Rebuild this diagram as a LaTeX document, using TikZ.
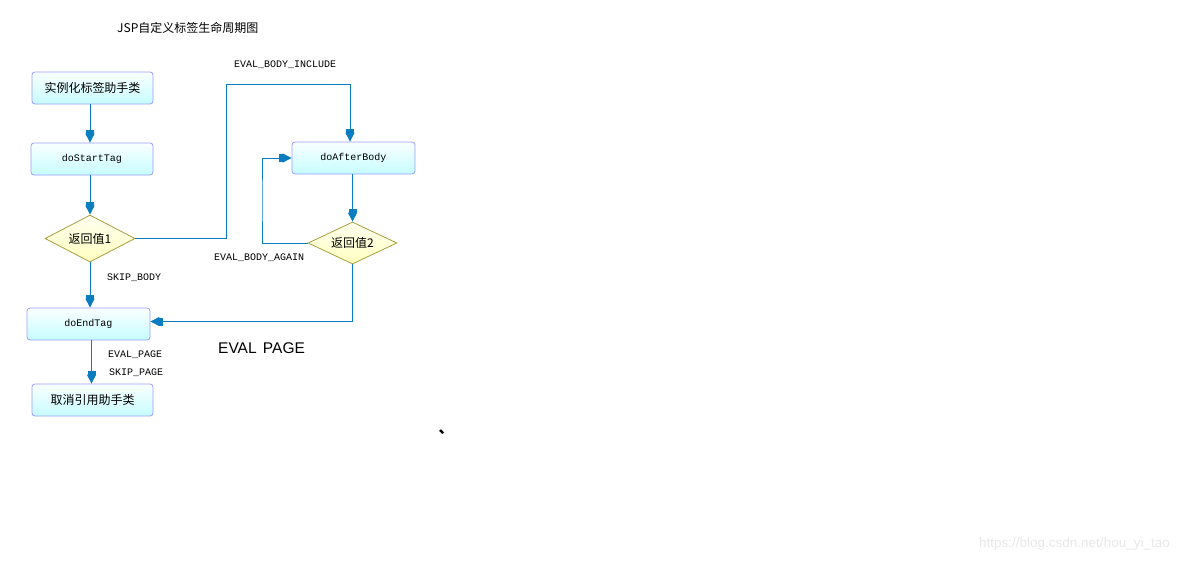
\documentclass[tikz,border=0pt]{standalone}
\usepackage{fontspec}
\usetikzlibrary{shapes.geometric,arrows.meta,calc}
\newfontfamily\cjk{Noto Sans CJK SC}
\newfontfamily\monof{Liberation Mono}
\newfontfamily\sansf{Liberation Sans}
\definecolor{boxline}{HTML}{9C9CFF}
\definecolor{boxtop}{HTML}{FAFFFF}
\definecolor{boxbot}{HTML}{C6FCFF}
\definecolor{dialine}{HTML}{A8A040}
\definecolor{diatop}{HTML}{FFFFF0}
\definecolor{diabot}{HTML}{FFFFC0}
\definecolor{arrowc}{HTML}{0A7CC0}
\definecolor{wm}{HTML}{E8E8E8}
\tikzset{
  stepbox/.style={rectangle, rounded corners=3pt, draw=boxline, line width=0.8pt,
    top color=boxtop, bottom color=boxbot, minimum height=32pt, inner sep=0pt},
  decide/.style={diamond, draw=dialine, line width=0.8pt, top color=diatop, bottom color=diabot,
    inner sep=0pt, font=\cjk\fontsize{12}{14}\selectfont},
  conn/.style={draw=arrowc, line width=1pt,
    -{Rectangle[length=4pt,width=8pt]Triangle[length=9pt,width=9pt]}},
  cjktext/.style={font=\cjk\fontsize{12}{14}\selectfont},
  monotext/.style={font=\monof\fontsize{10}{12}\selectfont},
  lbl/.style={monotext, anchor=west, inner sep=0pt},
}
\begin{document}
\begin{tikzpicture}[x=1pt,y={(0pt,-1pt)}]
\useasboundingbox (0,0) rectangle (1179,562);
% title
\node[cjktext, anchor=west, inner sep=0pt] (title) at (117,28) {JSP自定义标签生命周期图};
% nodes
\node[stepbox, cjktext, minimum width=121pt] (n1) at (92.5,88) {实例化标签助手类};
\node[stepbox, monotext, minimum width=122pt] (n2) at (92,159) {doStartTag};
\node[decide, shape aspect=1.9, minimum width=90pt, minimum height=47pt] (d1) at (90,238.5) {返回值1};
\node[stepbox, monotext, minimum width=123pt] (n3) at (88.5,324) {doEndTag};
\node[stepbox, cjktext, minimum width=121pt] (n4) at (92.5,400) {取消引用助手类};
\node[stepbox, monotext, minimum width=123pt] (n5) at (353.5,158) {doAfterBody};
\node[decide, shape aspect=2.1, minimum width=89pt, minimum height=42pt] (d2) at (352.5,243) {返回值2};
\coordinate (c1) at (226,84);
\coordinate (c2) at (262,200);
% connectors
\draw[conn] (n1.south -| d1.center) -- (n2.north -| d1.center);
\draw[conn] (n2.south -| d1.center) -- (d1.north);
\draw[conn] (d1.east) -| (c1) -| ([xshift=-3.5pt]n5.north);
\draw[conn] (n5.south -| d2.center) -- (d2.north);
\draw[conn] (d2.west) -| (c2) |- (n5.west);
\draw[conn] (d2.south) |- ([yshift=2.5pt]n3.east);
\draw[conn] (d1.south) -- (d1.south |- n3.north);
\draw[conn] ([xshift=3pt]n3.south) -- ([xshift=3pt]n3.south |- n4.north);
% labels
\node[lbl] (l1) at (234,65) {EVAL\_BODY\_INCLUDE};
\node[lbl] (l2) at (107,278) {SKIP\_BODY};
\node[lbl] (l3) at (214,258) {EVAL\_BODY\_AGAIN};
\node[lbl] (l4) at (108,355) {EVAL\_PAGE};
\node[lbl] (l5) at (109,373) {SKIP\_PAGE};
\node[anchor=west, inner sep=0pt, font=\sansf\fontsize{15.5}{18}\selectfont] (ep) at (218,348) {EVAL\hspace{2pt} PAGE};
\node[inner sep=0pt, font=\cjk\bfseries\fontsize{15}{17}\selectfont] (mark) at (446,432) {、};
\node[anchor=east, inner sep=0pt, text=wm, font=\sansf\fontsize{13.5}{16}\selectfont] (wmk) at (1170,544) {https://blog.csdn.net/hou\_yi\_tao};
\end{tikzpicture}
\end{document}
